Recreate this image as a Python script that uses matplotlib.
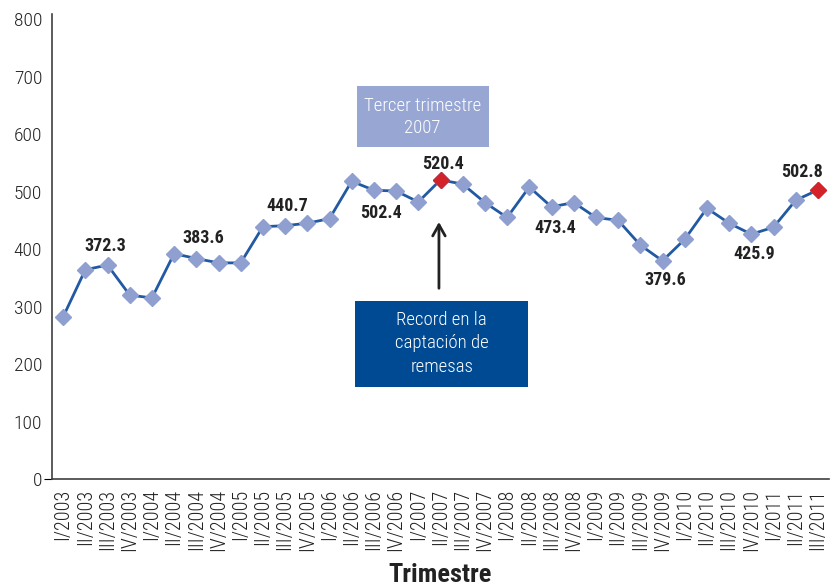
import matplotlib
matplotlib.use("Agg")
import matplotlib.pyplot as plt
from matplotlib.patches import Rectangle

# quarterly remittance figures, I/2003 .. III/2011
quarters = [f"{q}/{y}" for y in range(2003, 2012) for q in ("I", "II", "III", "IV")][:35]
values = [282, 364, 372.3, 320, 315, 392, 383.6, 376, 376,
          439, 440.7, 445, 453, 518, 502.4, 501, 482, 520.4, 513,
          481, 455, 508, 473.4, 481, 455, 450, 407, 379.6, 417,
          471, 445, 425.9, 438, 485, 502.8]
highlight = [17, 34]                      # red points
labelled = [2, 6, 10, 14, 17, 22, 27, 31, 34]
yticks = [0, 100, 200, 300, 400, 500, 600, 700, 800]

plt.rcParams["font.family"] = ["Roboto Condensed", "DejaVu Sans"]

LINE = "#2159a3"
MARK = "#8e9fd0"
RED = "#d2232a"
INK = "#222222"

fig = plt.figure(figsize=(8.33, 5.87), dpi=100)
ax = fig.add_axes([52 / 833, 108 / 587, 777 / 833, 465 / 587])

x = list(range(len(values)))
ax.plot(x, values, color=LINE, lw=2.0, marker="D", ms=8.5, mfc=MARK, mec=MARK, zorder=3)
ax.plot([x[i] for i in highlight], [values[i] for i in highlight], ls="none",
        marker="D", ms=8.5, mfc=RED, mec=RED, zorder=4)

# data label offsets (points)
offsets = [(-1.5, 13.5), (5, 15), (1.5, 14), (5, -16.5), (2, 11.5),
           (3, -15), (2, -14), (2, -14.5), (-11.5, 13)]
for i, (dx, dy) in zip(labelled, offsets):
    ax.annotate(f"{values[i]:.1f}", (x[i], values[i]), xytext=(dx, dy),
                textcoords="offset points", ha="center", va="center",
                fontsize=13, fontweight="bold", color=INK)

ax.set_xlim(-0.5, len(values) - 0.5)
ax.set_ylim(0, 809)
ax.set_yticks(yticks)
ax.set_xticks(x)
ax.set_xticklabels(quarters, rotation=90, fontsize=14.5, color=INK, fontweight="light")
for t in ax.get_yticklabels():
    t.set_fontweight("light")
ax.tick_params(axis="y", labelsize=14, labelcolor=INK, length=0, pad=7)
ax.tick_params(axis="x", length=0, pad=7)
ax.yaxis.get_major_ticks()[0].tick1line.set_markersize(6)
ax.yaxis.get_major_ticks()[0].tick1line.set_color("#404040")
for s in ("top", "right"):
    ax.spines[s].set_visible(False)
for s in ("left", "bottom"):
    ax.spines[s].set_color("#404040")
    ax.spines[s].set_linewidth(1.2)
ax.set_xlabel("Trimestre", fontsize=19, fontweight="bold", color=INK, labelpad=9)

# callout boxes
ax.add_patch(Rectangle((13.25, 578), 5.92, 105.5, fc="#98a6d3", ec="none", zorder=5))
ax.text(16.2, 630, "Tercer trimestre\n2007", ha="center", va="center", color="white",
        fontsize=13.5, fontweight="light", linespacing=1.3, zorder=6)
ax.add_patch(Rectangle((13.17, 160.5), 7.75, 149.5, fc="#004a93", ec="none", zorder=5))
ax.text(17.05, 236, "Record en la\ncaptación de\nremesas", ha="center", va="center",
        color="white", fontsize=13.5, fontweight="light", linespacing=1.4, zorder=6)
ax.annotate("", xy=(16.93, 452), xytext=(16.93, 327),
            arrowprops=dict(arrowstyle="->,head_length=0.8,head_width=0.45", color=INK, lw=2))

fig.savefig("out.png", dpi=100)
